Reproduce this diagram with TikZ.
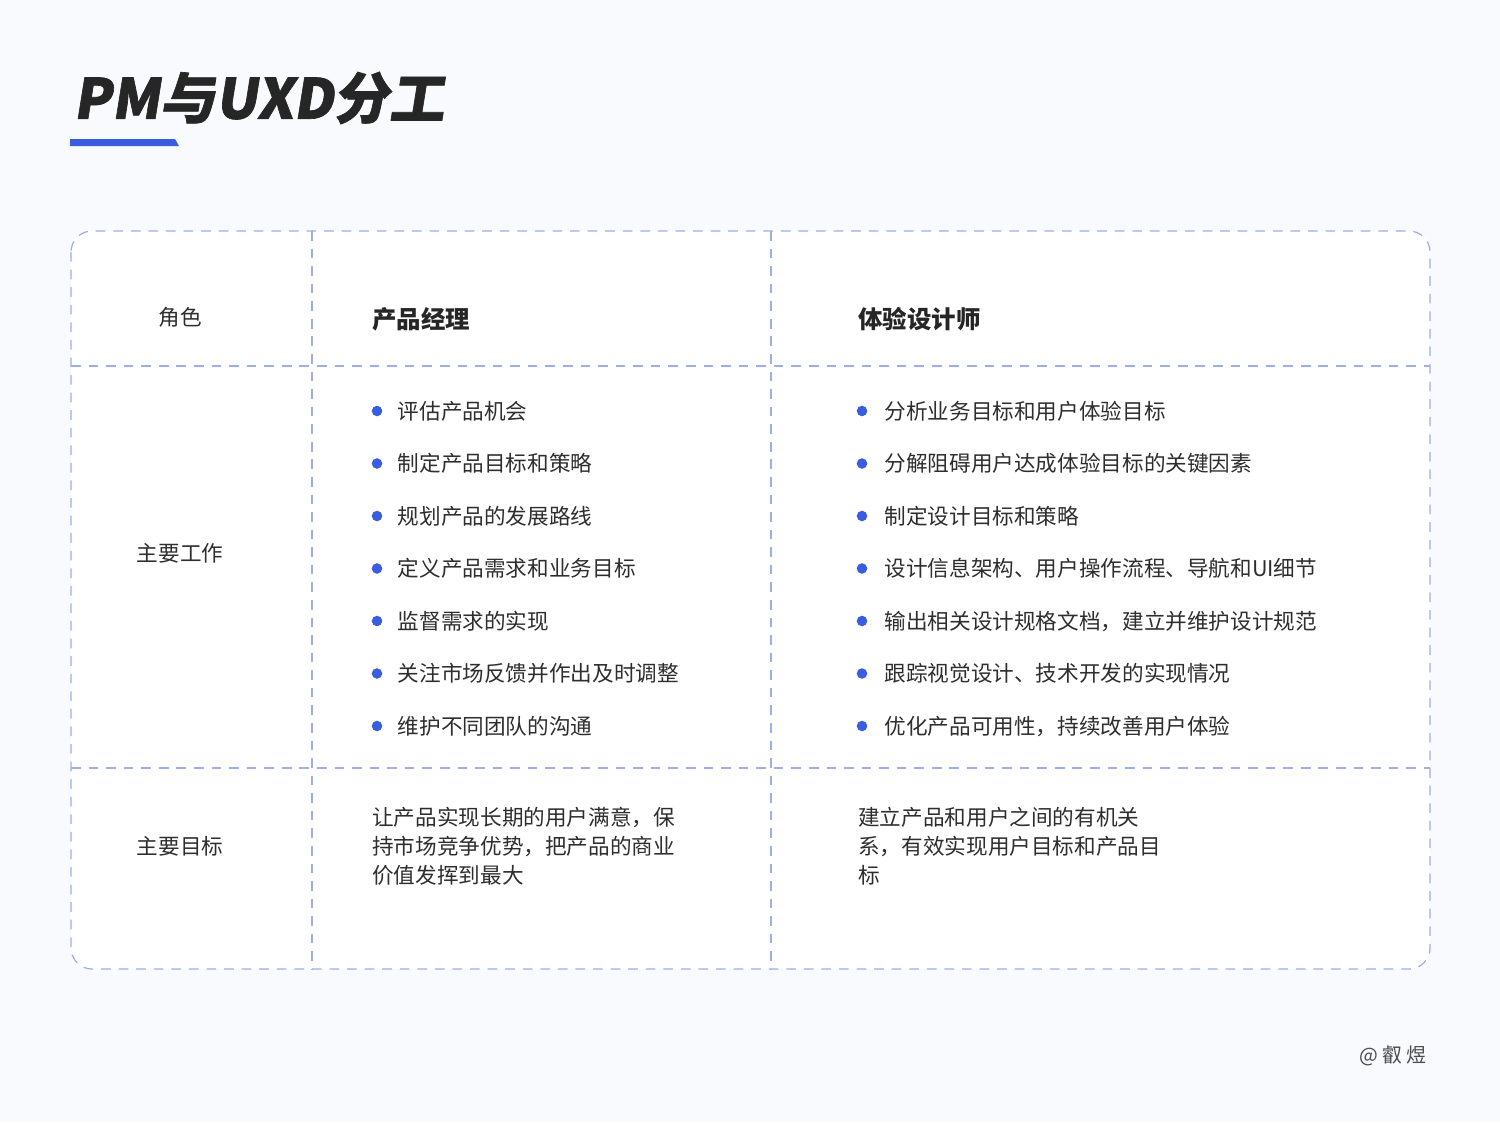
\documentclass[tikz,border=0pt]{standalone}
\usepackage{fontspec}
\setmainfont{Noto Sans CJK SC}
\newfontfamily\titlefont[FakeSlant=0.16,FakeBold=1.2]{Noto Sans CJK SC}
\usetikzlibrary{positioning}

\definecolor{pagebg}{HTML}{F8FAFD}
\definecolor{gridblue}{HTML}{9DAEE8}
\definecolor{dotblue}{HTML}{3A5DE0}
\definecolor{bodytext}{HTML}{2E2E2E}
\definecolor{headtext}{HTML}{262626}

\begin{document}
\begin{tikzpicture}[x=0.02cm, y=-0.02cm,
  grid/.style={draw=gridblue, line width=0.7pt, dash pattern=on 5.5pt off 4.5pt},
  rowhead/.style={text=bodytext, font=\fontsize{12.3}{14}\selectfont},
  colhead/.style={anchor=west, text=headtext, inner sep=0pt, font=\fontsize{13.9}{16}\selectfont\bfseries},
  dot/.style={circle, fill=dotblue, inner sep=0pt, minimum size=6pt},
  item/.style={text=bodytext, inner sep=0pt, font=\fontsize{12.3}{14}\selectfont},
  goal/.style={anchor=north west, align=left, text=bodytext, inner sep=0pt, font=\fontsize{12.3}{16.4}\selectfont}
]

% page
\fill[pagebg] (0,0) rectangle (1500,1122);
\useasboundingbox (0,0) rectangle (1500,1122);

% title
\node[anchor=west, inner sep=0pt, text=headtext, font=\fontsize{31.5}{34}\titlefont\bfseries] (title) at (73,98) {PM与UXD分工};
\fill[dotblue] (70,139) -- (175,139) -- (179,146) -- (70,146) -- cycle;

% table
\fill[white, rounded corners=12] (71,231) rectangle (1430,969);
\draw[grid, rounded corners=12] (71,231) rectangle (1430,969);
\foreach \x in {312, 771} {
    \draw[grid] (\x,231) -- (\x,969);
}
\foreach \y in {366, 768} {
    \draw[grid] (71,\y) -- (1430,\y);
}

% row heads
\node[rowhead] (role) at (180,317) {角色};
\node[rowhead] (work) at (180,553) {主要工作};
\node[rowhead] (goal) at (180,846) {主要目标};

% column heads
\node[colhead] (pm) at (372,319) {产品经理};
\node[colhead] (uxd) at (858,319) {体验设计师};

% PM work items
\foreach \t [count=\i] in {评估产品机会, 制定产品目标和策略, 规划产品的发展路线,
    定义产品需求和业务目标, 监督需求的实现, 关注市场反馈并作出及时调整, 维护不同团队的沟通} {
    \node[dot] (pm-dot-\i) at (377, 411 + 52.5*\i - 52.5) {};
    \node[item, right = 8.5pt of pm-dot-\i] (pm-item-\i) {\t};
}

% UXD work items
\foreach \t [count=\i] in {分析业务目标和用户体验目标, 分解阻碍用户达成体验目标的关键因素, 制定设计目标和策略,
    设计信息架构、用户操作流程、导航和UI细节, 输出相关设计规格文档，建立并维护设计规范,
    跟踪视觉设计、技术开发的实现情况, 优化产品可用性，持续改善用户体验} {
    \node[dot] (uxd-dot-\i) at (862, 411 + 52.5*\i - 52.5) {};
    \node[item, right = 9.5pt of uxd-dot-\i] (uxd-item-\i) {\t};
}

% goals
\node[goal] (pm-goal) at (372,807) {让产品实现长期的用户满意，保\\持市场竞争优势，把产品的商业\\价值发挥到最大};
\node[goal] (uxd-goal) at (858,807) {建立产品和用户之间的有机关\\系，有效实现用户目标和产品目\\标};

% signature
\node[anchor=east, inner sep=0pt, text=black!70, font=\fontsize{11.3}{13}\selectfont] (sign) at (1427,1056) {@ 叡 煜};

\end{tikzpicture}
\end{document}
